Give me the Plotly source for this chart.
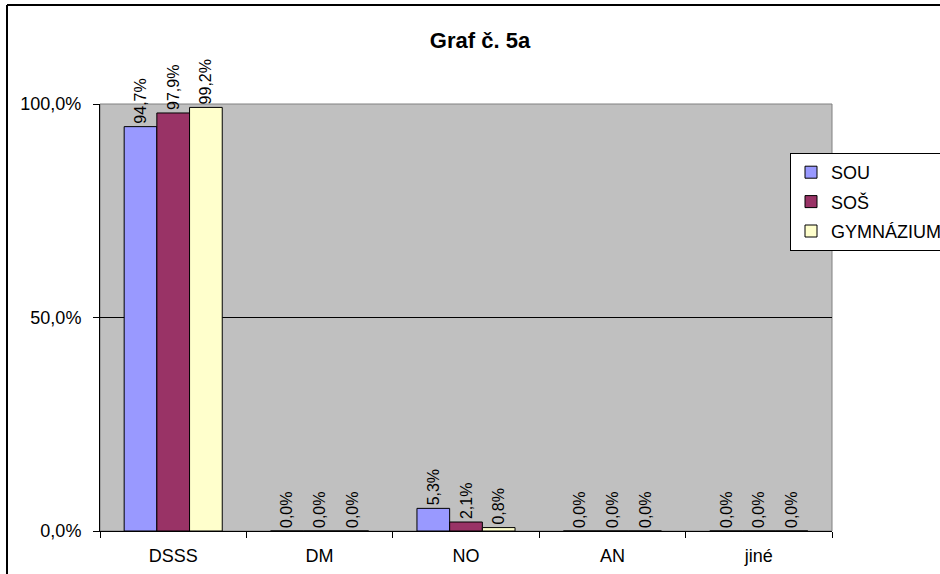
import plotly.graph_objects as go

categories = ["DSSS", "DM", "NO", "AN", "jiné"]
series_names = ["SOU", "SOŠ", "GYMNÁZIUM"]
sou = [0.947, 0.0, 0.053, 0.0, 0.0]
sos = [0.979, 0.0, 0.021, 0.0, 0.0]
gym = [0.992, 0.0, 0.008, 0.0, 0.0]
colors = ["#9999FF", "#993366", "#FFFFCC"]
y_ticks = [0, 0.5, 1.0]

W, H = 940, 574
L, R, T, B = 100, 108, 104, 43
pw, ph = W - L - R, H - T - B

def px_x(x):
    return (x - L) / pw

def px_y(y):
    return (H - B - y) / ph

fig = go.Figure()
for name, vals, col in zip(series_names, [sou, sos, gym], colors):
    fig.add_trace(go.Bar(
        x=categories, y=vals, name=name, legendgroup=name,
        marker=dict(color=col, line=dict(color="black", width=1)),
        text=vals, texttemplate="%{y:.1%}", textposition="outside",
        textangle=-90, constraintext="none",
        textfont=dict(family="Liberation Sans, Arial", size=16, color="black"),
        cliponaxis=False,
    ))

fig.update_layout(
    width=W, height=H,
    margin=dict(l=L, r=R, t=T, b=B, autoexpand=False),
    paper_bgcolor="white", plot_bgcolor="#C0C0C0",
    barmode="group", bargap=0.33, bargroupgap=0,
    separators=", ",
    font=dict(family="Liberation Sans, Arial", size=18, color="black"),
    title=dict(text="<b>Graf č. 5a</b>", x=480 / W, xanchor="center",
               y=1 - 40 / H, yanchor="middle", font=dict(size=22)),
    showlegend=True,
    legend=dict(xref="container", yref="container",
                x=790 / W, y=1 - 153 / H, xanchor="left", yanchor="top",
                bgcolor="white", bordercolor="black", borderwidth=1,
                font=dict(size=18), tracegroupgap=3, itemwidth=30),
)
fig.update_xaxes(
    showline=True, linecolor="black", linewidth=1,
    ticks="outside", tickson="boundaries", ticklen=6, tickcolor="black",
    showgrid=False, tickfont=dict(size=18), automargin=False,
    ticklabelstandoff=8,
)
fig.update_yaxes(
    range=[0, 1.0], tickvals=y_ticks, tickformat=".1%",
    showline=True, linecolor="black", linewidth=1,
    ticks="outside", ticklen=6, tickcolor="black",
    showgrid=True, gridcolor="black", gridwidth=1, zeroline=False,
    tickfont=dict(size=18), automargin=False, ticklabelstandoff=8,
)
fig.add_shape(type="rect", xref="paper", yref="paper", x0=0, x1=1, y0=0, y1=1,
              line=dict(color="#808080", width=1), layer="below")
fig.add_shape(type="line", xref="paper", yref="paper", x0=px_x(7), x1=px_x(7),
              y0=px_y(5), y1=px_y(H + 5), line=dict(color="black", width=2))
fig.add_shape(type="line", xref="paper", yref="paper", x0=px_x(7), x1=px_x(W + 5),
              y0=px_y(5), y1=px_y(5), line=dict(color="black", width=2))

fig.write_html("out.html", config={"displayModeBar": False},
               post_script="document.body.style.margin='0';document.body.style.overflow='hidden';")
